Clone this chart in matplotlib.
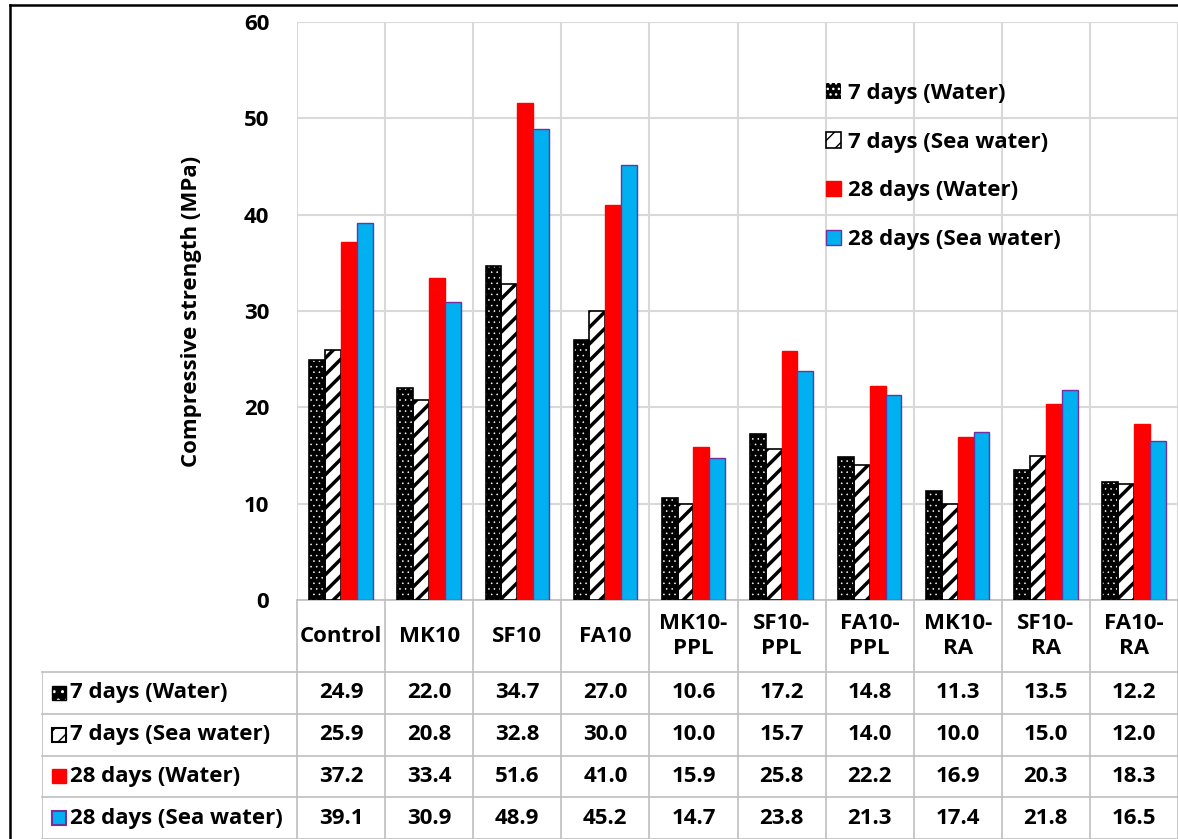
import matplotlib
matplotlib.use("Agg")
import matplotlib.pyplot as plt
from matplotlib.patches import Rectangle
from matplotlib.lines import Line2D
import numpy as np

categories = ["Control", "MK10", "SF10", "FA10", "MK10-\nPPL", "SF10-\nPPL",
              "FA10-\nPPL", "MK10-\nRA", "SF10-\nRA", "FA10-\nRA"]
series_names = ["7 days (Water)", "7 days (Sea water)", "28 days (Water)", "28 days (Sea water)"]
d7_water = [24.9, 22.0, 34.7, 27.0, 10.6, 17.2, 14.8, 11.3, 13.5, 12.2]
d7_sea = [25.9, 20.8, 32.8, 30.0, 10.0, 15.7, 14.0, 10.0, 15.0, 12.0]
d28_water = [37.2, 33.4, 51.6, 41.0, 15.9, 25.8, 22.2, 16.9, 20.3, 18.3]
d28_sea = [39.1, 30.9, 48.9, 45.2, 14.7, 23.8, 21.3, 17.4, 21.8, 16.5]
series = [d7_water, d7_sea, d28_water, d28_sea]

plt.rcParams['font.family'] = ['Open Sans', 'DejaVu Sans']
plt.rcParams['font.weight'] = 'bold'
FS = 16
GRID = '#D9D9D9'
TLINE = '#BFBFBF'

W, H = 1178, 839
fig = plt.figure(figsize=(W / 100, H / 100), dpi=100)

x0, x1 = 297, 1178
ytop, ybot = 22, 600
ax = fig.add_axes([x0 / W, 1 - ybot / H, (x1 - x0) / W, (ybot - ytop) / H])

n = len(categories)
x = np.arange(n)
bw = 0.18
offs = np.array([-1.5, -0.5, 0.5, 1.5]) * bw

# 7 days water: black with white dots
with plt.rc_context({'hatch.linewidth': 0.4}):
    b1 = ax.bar(x + offs[0], d7_water, bw, facecolor='black', edgecolor='white',
                hatch='...', linewidth=0, label=series_names[0], zorder=3)
ax.bar(x + offs[0], d7_water, bw, fill=False, edgecolor='black', linewidth=1.2, zorder=4)
with plt.rc_context({'hatch.linewidth': 2.5}):
    b2 = ax.bar(x + offs[1], d7_sea, bw, facecolor='white', edgecolor='black',
                hatch='//', linewidth=1.2, label=series_names[1], zorder=3)
b3 = ax.bar(x + offs[2], d28_water, bw, color='#FF0000', edgecolor='#FF0000',
            linewidth=1, label=series_names[2], zorder=3)
b4 = ax.bar(x + offs[3], d28_sea, bw, color='#00B0F0', edgecolor='#7030A0',
            linewidth=1, label=series_names[3], zorder=3)

ax.set_xlim(-0.5, n - 0.5)
ax.set_ylim(0, 60)
ax.set_yticks(np.arange(0, 61, 10))
ax.set_xticks([])
ax.set_xticks(np.arange(-0.5, n, 1), minor=True)
ax.tick_params(axis='x', which='both', length=0)
ax.tick_params(axis='y', length=0, labelsize=FS, pad=20)
for lab in ax.get_yticklabels():
    lab.set_fontweight('bold')
ax.grid(axis='y', color=GRID, linewidth=1.5, zorder=0)
ax.grid(axis='x', which='minor', color=GRID, linewidth=1.5, zorder=0)
for s in ['top', 'right', 'left']:
    ax.spines[s].set_visible(False)
ax.spines['bottom'].set_color(TLINE)
ax.spines['bottom'].set_linewidth(1.2)
ax.set_ylabel('Compressive strength (MPa)', fontsize=FS, fontweight='bold', labelpad=30)

leg = ax.legend(handles=[b1, b2, b3, b4], loc='upper left', bbox_to_anchor=(0.59, 0.91),
                frameon=False, fontsize=FS, handlelength=0.7, handleheight=0.7,
                handletextpad=0.3, labelspacing=1.25, borderaxespad=0)
for t in leg.get_texts():
    t.set_fontweight('bold')

# data table below the chart
lab_left = 42
row_h = 42
head_h = 72
lab_w = (x0 - lab_left) / ((x1 - x0) / n)
tax = fig.add_axes([lab_left / W, 0, (x1 - lab_left) / W, (H - ybot) / H])
tax.set_xlim(-0.5 - lab_w, n - 0.5)
ytot = (H - ybot) / row_h
tax.set_ylim(0, ytot)
tax.axis('off')
htop = ytot
hbot = ytot - head_h / row_h
for k in range(n + 1):
    tax.plot([k - 0.5, k - 0.5], [0, htop], color=TLINE, lw=1.2, clip_on=False)
tax.plot([-0.5 - lab_w, -0.5 - lab_w], [0, hbot], color=TLINE, lw=1.2)
for r in range(len(series) + 1):
    yy = hbot - r * (hbot / len(series))
    tax.plot([-0.5 - lab_w, n - 0.5], [yy, yy], color=TLINE, lw=1.2, clip_on=False)
for i, c in enumerate(categories):
    tax.text(i, (htop + hbot) / 2, c, ha='center', va='center', fontsize=FS,
             fontweight='bold', linespacing=1.3)
rh = hbot / len(series)
px = (n - 0.5 - (-0.5 - lab_w)) / (x1 - lab_left)
py = 1 / row_h
sw_styles = [dict(facecolor='black', edgecolor='white', hatch='..', lw=0),
             dict(facecolor='white', edgecolor='black', hatch='//', lw=1.5),
             dict(facecolor='#FF0000', edgecolor='#FF0000', lw=1),
             dict(facecolor='#00B0F0', edgecolor='#7030A0', lw=1.5)]
for r, (name, vals) in enumerate(zip(series_names, series)):
    yc = hbot - (r + 0.5) * rh
    xs = -0.5 - lab_w + 10 * px
    tax.add_patch(Rectangle((xs, yc - 7 * py), 14 * px, 14 * py, **sw_styles[r]))
    if r == 0:
        tax.add_patch(Rectangle((xs, yc - 7 * py), 14 * px, 14 * py, fill=False,
                                edgecolor='black', lw=1))
    tax.text(xs + 18 * px, yc, name, ha='left', va='center', fontsize=FS, fontweight='bold')
    for i, v in enumerate(vals):
        tax.text(i, yc, f"{v:.1f}", ha='center', va='center', fontsize=FS, fontweight='bold')

# outer border lines
fig.add_artist(Line2D([10 / W, 10 / W], [0, 1 - 5 / H], color='black', lw=1.8))
fig.add_artist(Line2D([10 / W, 1], [1 - 5 / H, 1 - 5 / H], color='black', lw=1.8))

fig.savefig('out.png', dpi=100)
